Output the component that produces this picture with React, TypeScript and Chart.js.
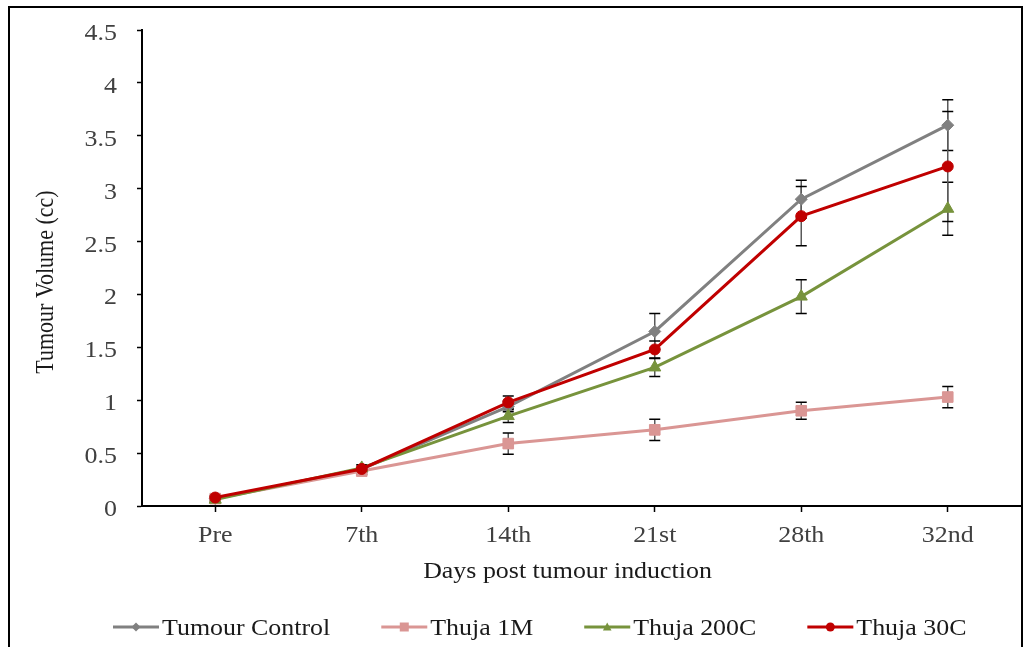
import React, { useEffect, useRef } from 'react';
import { Chart, registerables } from 'chart.js';

Chart.register(...registerables);

// Days after tumour induction
const days = ['Pre', '7th', '14th', '21st', '28th', '32nd'];

// Mean tumour volume (cc) and error (±) per group
const tumourControl = [0.07, 0.35, 0.94, 1.65, 2.9, 3.6];
const tumourControlErr = [0.02, 0.03, 0.05, 0.17, 0.18, 0.24];

const thuja1M = [0.07, 0.33, 0.59, 0.72, 0.9, 1.03];
const thuja1MErr = [0.02, 0.03, 0.1, 0.1, 0.08, 0.1];

const thuja200C = [0.06, 0.36, 0.85, 1.31, 1.98, 2.81];
const thuja200CErr = [0.02, 0.03, 0.06, 0.085, 0.16, 0.25];

const thuja30C = [0.08, 0.35, 0.98, 1.48, 2.74, 3.21];
const thuja30CErr = [0.02, 0.03, 0.06, 0.08, 0.28, 0.52];

const yMax = 4.5;
const yStep = 0.5;

const xTitle = 'Days post tumour induction';
const yTitle = 'Tumour Volume (cc)';

const SERIF = '"Liberation Serif", "Times New Roman", serif';
// horizontal text is set slightly wide; the rotated title more so
const WIDE = 1.08;
const WIDE_Y_TITLE = 1.18;

const TICK_SIZE = 24;
const TITLE_SIZE = 24;
const Y_TITLE_SIZE = 22;
const LEGEND_SIZE = 24;

type Series = {
  label: string;
  data: number[];
  err: number[];
  color: string;
  marker: 'rectRot' | 'rect' | 'triangle' | 'circle';
  radius: number;
  order: number;
};

const series: Series[] = [
  { label: 'Tumour Control', data: tumourControl, err: tumourControlErr, color: '#808080', marker: 'rectRot', radius: 6, order: 3 },
  { label: 'Thuja 1M', data: thuja1M, err: thuja1MErr, color: '#DA9694', marker: 'rect', radius: 7.5, order: 2 },
  { label: 'Thuja 200C', data: thuja200C, err: thuja200CErr, color: '#77933C', marker: 'triangle', radius: 7, order: 1 },
  { label: 'Thuja 30C', data: thuja30C, err: thuja30CErr, color: '#C00000', marker: 'circle', radius: 5.5, order: 0 },
];

// Vertical error bars with caps, drawn beneath the lines and markers
const errorBarsPlugin = {
  id: 'errorBars',
  beforeDatasetsDraw(chart: any) {
    const { ctx } = chart;
    const yScale = chart.scales.y;
    ctx.save();
    series.forEach((s, i) => {
      const meta = chart.getDatasetMeta(i);
      meta.data.forEach((pt: any, j: number) => {
        const v = s.data[j];
        const e = s.err[j];
        const x = pt.x;
        const yTop = yScale.getPixelForValue(v + e);
        const yBot = yScale.getPixelForValue(v - e);
        ctx.strokeStyle = '#595959';
        ctx.lineWidth = 1.5;
        ctx.beginPath();
        ctx.moveTo(x, yTop);
        ctx.lineTo(x, yBot);
        ctx.stroke();
        ctx.strokeStyle = '#000000';
        ctx.lineWidth = 1.5;
        ctx.beginPath();
        ctx.moveTo(x - 5.5, yTop);
        ctx.lineTo(x + 5.5, yTop);
        ctx.moveTo(x - 5.5, yBot);
        ctx.lineTo(x + 5.5, yBot);
        ctx.stroke();
      });
    });
    ctx.restore();
  },
};

function drawMarker(ctx: CanvasRenderingContext2D, kind: Series['marker'], x: number, y: number, r: number) {
  ctx.beginPath();
  if (kind === 'rectRot') {
    ctx.moveTo(x, y - r);
    ctx.lineTo(x + r, y);
    ctx.lineTo(x, y + r);
    ctx.lineTo(x - r, y);
  } else if (kind === 'rect') {
    ctx.rect(x - r, y - r, 2 * r, 2 * r);
  } else if (kind === 'triangle') {
    ctx.moveTo(x, y - r);
    ctx.lineTo(x + r * 0.95, y + r * 0.75);
    ctx.lineTo(x - r * 0.95, y + r * 0.75);
  } else {
    ctx.arc(x, y, r, 0, Math.PI * 2);
  }
  ctx.closePath();
  ctx.fill();
}

// widened text drawn with a horizontal scale
function wideText(
  ctx: CanvasRenderingContext2D,
  text: string,
  x: number,
  y: number,
  size: number,
  align: CanvasTextAlign,
  color: string,
) {
  ctx.save();
  ctx.font = `${size}px ${SERIF}`;
  ctx.fillStyle = color;
  ctx.textAlign = align;
  ctx.textBaseline = 'alphabetic';
  ctx.translate(x, y);
  ctx.scale(WIDE, 1);
  ctx.fillText(text, 0, 0);
  ctx.restore();
}

function wideWidth(ctx: CanvasRenderingContext2D, text: string, size: number) {
  ctx.save();
  ctx.font = `${size}px ${SERIF}`;
  const w = ctx.measureText(text).width * WIDE;
  ctx.restore();
  return w;
}

// Tick labels, axis titles and a line-with-marker legend row
const textPlugin = {
  id: 'figureText',
  afterDraw(chart: any) {
    const { ctx, chartArea } = chart;
    const xScale = chart.scales.x;
    const yScale = chart.scales.y;
    ctx.save();

    // category labels
    xScale.ticks.forEach((_t: any, i: number) => {
      const x = xScale.getPixelForTick(i);
      wideText(ctx, String(xScale.getLabelForValue(i)), x, chartArea.bottom + 36, TICK_SIZE, 'center', '#404040');
    });

    // value labels
    yScale.ticks.forEach((t: any) => {
      const y = yScale.getPixelForValue(t.value);
      wideText(ctx, String(Number(t.value)), chartArea.left - 25, y + 10, TICK_SIZE, 'right', '#404040');
    });

    // x-axis title
    wideText(ctx, xTitle, (chartArea.left + chartArea.right) / 2 - 14, chartArea.bottom + 72, TITLE_SIZE, 'center', '#1a1a1a');

    // y-axis title (rotated; glyphs widened across the page)
    ctx.save();
    ctx.font = `${Y_TITLE_SIZE}px ${SERIF}`;
    ctx.fillStyle = '#1a1a1a';
    ctx.textAlign = 'center';
    ctx.textBaseline = 'alphabetic';
    ctx.translate(43, (chartArea.top + chartArea.bottom) / 2 + 14);
    ctx.rotate(-Math.PI / 2);
    ctx.scale(1, WIDE_Y_TITLE);
    ctx.fillText(yTitle, 0, 0);
    ctx.restore();

    // legend
    const legendY = chartArea.bottom + 121;
    let x = 103;
    series.forEach((s) => {
      ctx.strokeStyle = s.color;
      ctx.lineWidth = 3;
      ctx.beginPath();
      ctx.moveTo(x, legendY);
      ctx.lineTo(x + 46, legendY);
      ctx.stroke();
      ctx.fillStyle = s.color;
      drawMarker(ctx, s.marker, x + 23, legendY, 4.5);
      wideText(ctx, s.label, x + 49, legendY + 8, LEGEND_SIZE, 'left', '#1a1a1a');
      x += 49 + wideWidth(ctx, s.label, LEGEND_SIZE) + 51;
    });

    ctx.restore();
  },
};

function zeroPadding(scale: any) {
  scale.paddingLeft = 0;
  scale.paddingRight = 0;
  scale.paddingTop = 0;
  scale.paddingBottom = 0;
}

export default function App() {
  const canvasRef = useRef<HTMLCanvasElement | null>(null);

  useEffect(() => {
    if (!canvasRef.current) return;
    const chart = new Chart(canvasRef.current, {
      type: 'line',
      data: {
        labels: days,
        datasets: series.map((s) => ({
          label: s.label,
          data: s.data,
          borderColor: s.color,
          backgroundColor: s.color,
          borderWidth: 3,
          pointStyle: s.marker,
          pointRadius: s.radius,
          pointHoverRadius: s.radius,
          pointBackgroundColor: s.color,
          pointBorderColor: s.color,
          pointBorderWidth: 1,
          tension: 0,
          order: s.order,
        })),
      },
      options: {
        responsive: false,
        animation: false,
        devicePixelRatio: 1,
        layout: { autoPadding: false, padding: { top: 22, right: 0, bottom: 81, left: 0 } },
        plugins: {
          legend: { display: false },
          tooltip: { enabled: false },
        },
        scales: {
          x: {
            offset: true,
            afterFit(scale: any) {
              scale.height = 60;
              zeroPadding(scale);
            },
            grid: {
              display: true,
              drawOnChartArea: false,
              drawTicks: true,
              tickLength: 6,
              tickWidth: 1.5,
              tickColor: '#000000',
              offset: false,
            },
            border: { display: true, color: '#000000', width: 2 },
            ticks: { display: false },
          },
          y: {
            min: 0,
            max: yMax,
            afterFit(scale: any) {
              scale.width = 132;
              zeroPadding(scale);
            },
            grid: {
              display: true,
              drawOnChartArea: false,
              drawTicks: true,
              tickLength: 5,
              tickWidth: 1.5,
              tickColor: '#000000',
            },
            border: { display: true, color: '#000000', width: 2 },
            ticks: { display: false, stepSize: yStep },
          },
        },
      },
      plugins: [errorBarsPlugin, textPlugin],
    });
    return () => chart.destroy();
  }, []);

  return (
    <div
      style={{
        position: 'fixed',
        left: 8,
        top: 6,
        width: 1015,
        height: 650,
        boxSizing: 'border-box',
        border: '2px solid #000',
        background: '#fff',
        overflow: 'hidden',
      }}
    >
      <canvas ref={canvasRef} width={1011} height={639} style={{ display: 'block' }} />
    </div>
  );
}
